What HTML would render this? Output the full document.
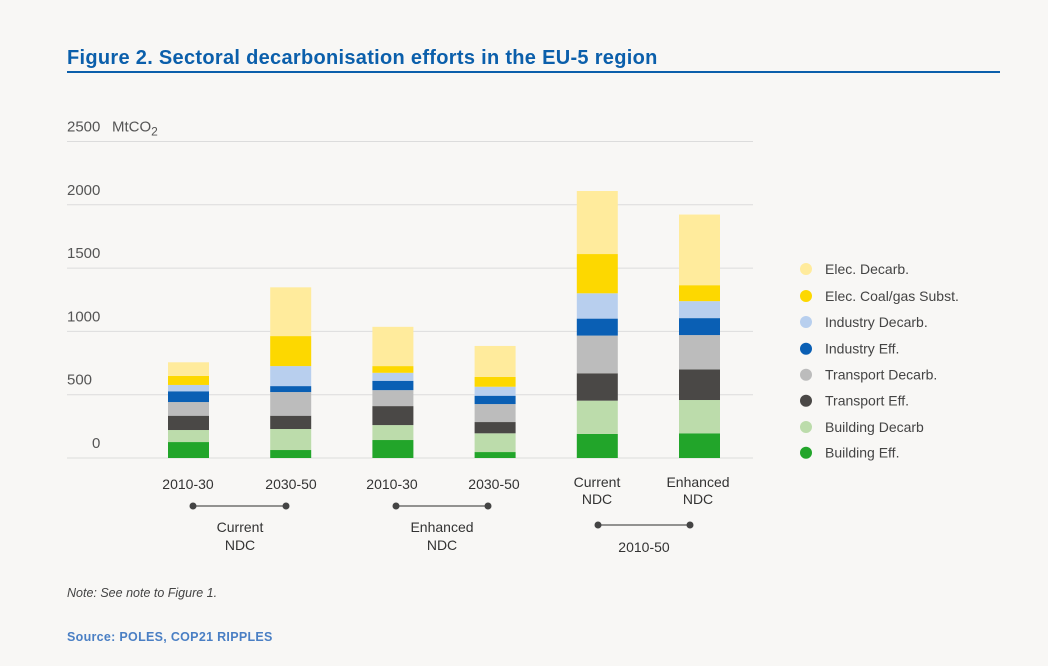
<!DOCTYPE html>
<html><head><meta charset="utf-8"><style>
html,body{margin:0;padding:0;background:#f8f7f5;}
body{width:1048px;height:661px;overflow:hidden;font-family:"Liberation Sans",sans-serif;}
</style></head><body>
<svg id="chart" width="1048" height="661" xmlns="http://www.w3.org/2000/svg" font-family="Liberation Sans, sans-serif">
<text x="67" y="64" font-size="20" letter-spacing="0.3" font-weight="bold" fill="#0b5fab">Figure 2. Sectoral decarbonisation efforts in the EU-5 region</text>
<rect x="67" y="71" width="933" height="2" fill="#0b5fab"/>
<g id="grid"></g>
<g id="bars"></g>
<g id="legend"></g>
<g id="xlabels" font-size="14" fill="#333"></g>
<text x="67" y="597" font-size="12.5" font-style="italic" fill="#444">Note: See note to Figure 1.</text>
<text x="67" y="641" font-size="12.5" font-weight="bold" letter-spacing="0.3" fill="#4a7fc4">Source: POLES, COP21 RIPPLES</text>
</svg>
<script>
const categories = ["2010-30 Current","2030-50 Current","2010-30 Enhanced","2030-50 Enhanced","Current NDC 2010-50","Enhanced NDC 2010-50"];
const seriesNames = ["Building Eff.","Building Decarb","Transport Eff.","Transport Decarb.","Industry Eff.","Industry Decarb.","Elec. Coal/gas Subst.","Elec. Decarb."];
const buildingEff = [126,63,142,47,190,195];
const buildingDecarb = [95,166,118,148,263,263];
const transportEff = [113,105,150,89,216,242];
const transportDecarb = [108,187,126,142,298,271];
const industryEff = [85,47,74,66,134,134];
const industryDecarb = [50,158,63,71,200,134];
const elecCoalGas = [71,237,53,77,310,126];
const elecDecarb = [108,385,310,245,498,558];
const yTicks = [0,500,1000,1500,2000,2500];
const colors = ["#22a52a","#bcdcab","#4a4846","#bcbcbc","#0a5fb4","#b8cfee","#fdd800","#ffeb9c"];
const series = [buildingEff,buildingDecarb,transportEff,transportDecarb,industryEff,industryDecarb,elecCoalGas,elecDecarb];
const NS="http://www.w3.org/2000/svg";
function mk(tag,attrs,parent){const e=document.createElementNS(NS,tag);for(const k in attrs)e.setAttribute(k,attrs[k]);parent.appendChild(e);return e;}
const y0=458, pxPer=63.3/500;
function yScale(v){return y0-v*pxPer;}
function xScale(i){return 168+i*102.2;}
const bw=41;
const grid=document.getElementById('grid');
yTicks.forEach(t=>{
  const l=mk('line',{x1:67,x2:753,y1:yScale(t),y2:yScale(t),stroke:'#dcdcdc','stroke-width':1},grid);
  
  
  const tx=mk('text',{x:t===0?92:67,y:yScale(t)-10,'font-size':15,fill:'#555'},grid);
  tx.textContent=String(t);
  
  
  if(t===2500){
    const u=mk('text',{x:112,y:yScale(t)-10,'font-size':15,fill:'#555'},grid);
    u.textContent='MtCO';
    
    
    const s=mk('tspan',{dy:4,'font-size':12},u);s.textContent='2';
  }
});
const bars=document.getElementById('bars');
categories.forEach((c,i)=>{
  let acc=0;
  series.forEach((s,j)=>{
    const v=s[i];
    const r=mk('rect',{x:xScale(i),y:yScale(acc+v),width:bw,height:v*pxPer,fill:colors[j]},bars);
    
    
    acc+=v;
  });
});
const legend=document.getElementById('legend');
const legY=[269,296,322,348.7,374.7,400.7,427,452.7];
for(let k=0;k<8;k++){
  const j=7-k;
  const g=mk('g',{},legend);
  
  
  mk('circle',{cx:806,cy:legY[k],r:6,fill:colors[j]},g);
  const t=mk('text',{x:825,y:legY[k]+5,'font-size':14,fill:'#444'},g);
  t.textContent=seriesNames[j];
}
const xl=document.getElementById('xlabels');
function txt(x,y,s,name){const t=mk('text',{x:x,y:y,'text-anchor':'middle'},xl);t.textContent=s;}
txt(188,489,'2010-30','x-label-2010-30-current');
txt(291,489,'2030-50','x-label-2030-50-current');
txt(392,489,'2010-30','x-label-2010-30-enhanced');
txt(494,489,'2030-50','x-label-2030-50-enhanced');
txt(597,487,'Current','x-label-current-ndc');txt(597,504,'NDC','x-label-current-ndc-2');
txt(698,487,'Enhanced','x-label-enhanced-ndc');txt(698,504,'NDC','x-label-enhanced-ndc-2');
function bracket(x1,x2,y,name){
  const g=mk('g',{},xl);
  
  
  mk('line',{x1:x1,x2:x2,y1:y,y2:y,stroke:'#555','stroke-width':1.3},g);
  mk('circle',{cx:x1,cy:y,r:3.5,fill:'#444'},g);
  mk('circle',{cx:x2,cy:y,r:3.5,fill:'#444'},g);
}
bracket(193,286,506,'bracket-current');
bracket(396,488,506,'bracket-enhanced');
bracket(598,690,525,'bracket-2010-50');
txt(240,532,'Current','group-label-current');txt(240,550,'NDC','group-label-current-2');
txt(442,532,'Enhanced','group-label-enhanced');txt(442,550,'NDC','group-label-enhanced-2');
txt(644,552,'2010-50','group-label-2010-50');
</script>
</body></html>
